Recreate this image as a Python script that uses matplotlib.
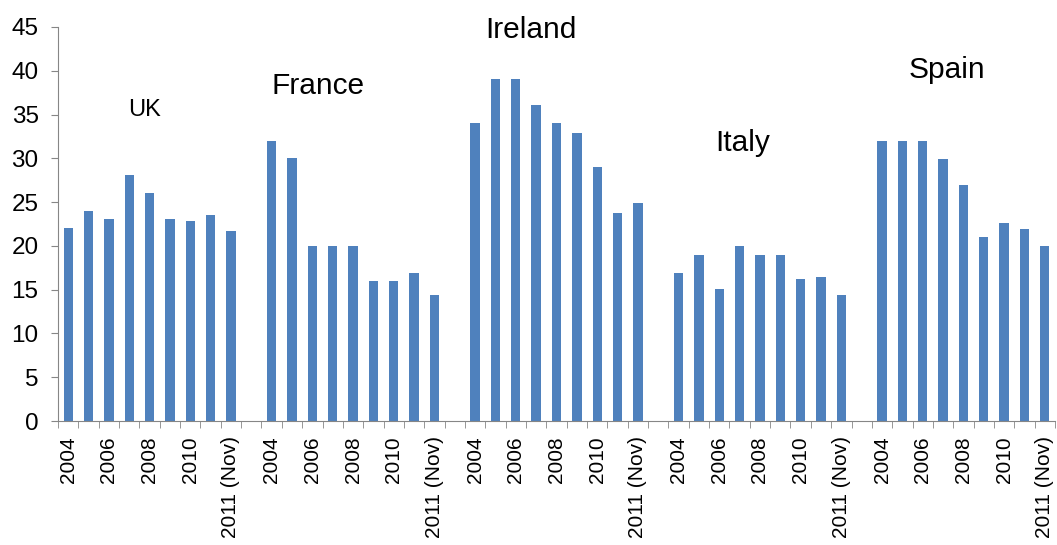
import matplotlib.pyplot as plt
import numpy as np

plt.rcParams["font.family"] = ["Liberation Sans", "DejaVu Sans"]

countries = ["UK", "France", "Ireland", "Italy", "Spain"]
years = ["2004", "2005", "2006", "2007", "2008", "2009", "2010", "2011", "2011 (Nov)"]
uk = [22.0, 24.0, 23.1, 28.1, 26.0, 23.1, 22.8, 23.5, 21.7]
france = [32.0, 30.0, 20.0, 20.0, 20.0, 16.0, 16.0, 16.9, 14.4]
ireland = [34.0, 39.1, 39.1, 36.1, 34.0, 32.9, 29.0, 23.8, 24.9]
italy = [16.9, 19.0, 15.1, 20.0, 19.0, 19.0, 16.2, 16.4, 14.4]
spain = [32.0, 32.0, 32.0, 29.9, 27.0, 21.0, 22.6, 21.9, 20.0]
series = [uk, france, ireland, italy, spain]

# each country block: 9 bars then one empty slot
x, heights, labels = [], [], []
for g, vals in enumerate(series):
    for i, v in enumerate(vals):
        x.append(g * 10 + i)
        heights.append(v)
        labels.append(years[i] if i % 2 == 0 else "")

fig = plt.figure(figsize=(10.57, 5.45), dpi=100)
ax = fig.add_axes([0.0549, 0.2275, 0.9432, 0.723])
ax.bar(x, heights, width=0.46, color="#4F81BD")

ax.set_xlim(-0.5, 48.5)
ax.set_ylim(0, 45)
ax.set_yticks(np.arange(0, 46, 5))

shown = [p for p, l in zip(x, labels) if l]
ax.set_xticks(shown)
ax.set_xticklabels([l for l in labels if l], rotation=90, fontsize=15)
ax.set_xticks(np.arange(-0.5, 49, 1), minor=True)
ax.tick_params(axis="x", which="major", length=0, pad=11)
ax.tick_params(axis="x", which="minor", length=5, color="#868686")
ax.tick_params(axis="y", length=5, color="#868686", labelsize=17.5, pad=9)

for side in ["top", "right"]:
    ax.spines[side].set_visible(False)
for side in ["left", "bottom"]:
    ax.spines[side].set_color("#868686")

# country names over each block
ax.text(3.73, 35.5, "UK", fontsize=17, ha="center", va="center")
ax.text(12.28, 38.3, "France", fontsize=21.5, ha="center", va="center")
ax.text(22.74, 44.7, "Ireland", fontsize=21.5, ha="center", va="center", clip_on=False)
ax.text(33.16, 31.7, "Italy", fontsize=21.5, ha="center", va="center")
ax.text(43.19, 40.1, "Spain", fontsize=21.5, ha="center", va="center")

fig.savefig("out.png", dpi=100)
